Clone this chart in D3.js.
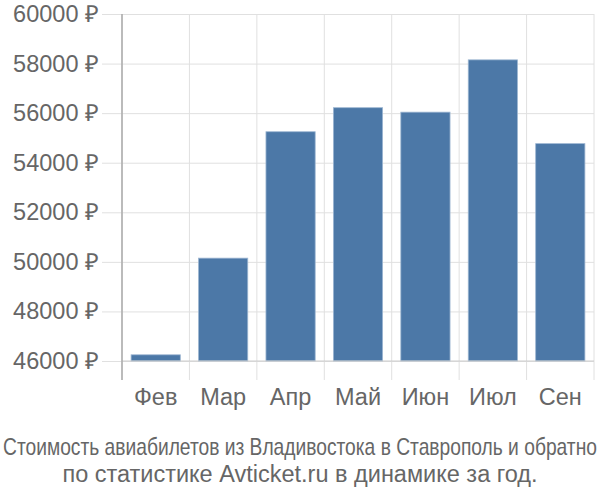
<!DOCTYPE html>
<html>
<head>
<meta charset="utf-8">
<script src="https://cdn.jsdelivr.net/npm/d3@7"></script>
<style>
  body { margin: 0; background: #fff; }
  text { font-family: "Liberation Sans", Arial, sans-serif; fill: #666; }
</style>
</head>
<body>
<div id="chart"></div>
<script>
// months and average ticket price
const months = ["Фев", "Мар", "Апр", "Май", "Июн", "Июл", "Сен"];
const prices = [46250, 50150, 55250, 56220, 56040, 58150, 54770];
const yTicks = [46000, 48000, 50000, 52000, 54000, 56000, 58000, 60000];
const titleLines = [
    "Стоимость авиабилетов из Владивостока в Ставрополь и обратно",
    "по статистике Avticket.ru в динамике за год."
];

const width = 600, height = 500;
const margin = {top: 14, right: 6, bottom: 139, left: 122};

const svg = d3.select("#chart").append("svg")
    .attr("width", width)
    .attr("height", height);

const x = d3.scaleBand()
    .domain(months)
    .range([margin.left, width - margin.right])
    .paddingInner(0.27)
    .paddingOuter(0.135);

const y = d3.scaleLinear()
    .domain([46000, 60000])
    .range([361, margin.top]);

const axisBottomY = 380;

// vertical grid lines (band edges)
const step = x.step();
const edges = d3.range(months.length + 1).map(i => margin.left + i * step);
svg.append("g").selectAll("line").data(edges)
    .enter().append("line")
    .attr("x1", d => d).attr("x2", d => d)
    .attr("y1", margin.top).attr("y2", axisBottomY)
    .attr("stroke", "#e0e0e0")
    .attr("stroke-width", 1);

// horizontal grid + tick labels
const yAxis = d3.axisLeft(y)
    .tickValues(yTicks)
    .tickSize(20)
    .tickPadding(3)
    .tickFormat(d => d + " ₽");

const gy = svg.append("g")
    .attr("transform", `translate(${margin.left},0)`)
    .call(yAxis);
gy.select(".domain").remove();
gy.selectAll(".tick line")
    .attr("x1", -20)
    .attr("x2", width - margin.right - margin.left)
    .attr("stroke", "#e0e0e0");
gy.selectAll(".tick text")
    .style("font-size", "23.5px")
    .attr("fill", "#666");

// bars
svg.append("g").selectAll("rect").data(prices)
    .enter().append("rect")
    .attr("x", (d, i) => x(months[i]))
    .attr("width", x.bandwidth())
    .attr("y", d => y(d))
    .attr("height", d => y(46000) - y(d))
    .attr("fill", "#4c78a7")
    .attr("stroke", "#9db6d2")
    .attr("stroke-width", 0.8);

// baseline
svg.append("line")
    .attr("x1", margin.left).attr("x2", width - margin.right)
    .attr("y1", y(46000)).attr("y2", y(46000))
    .attr("stroke", "#cccccc");

// left axis line
svg.append("line")
    .attr("x1", margin.left).attr("x2", margin.left)
    .attr("y1", margin.top).attr("y2", axisBottomY)
    .attr("stroke", "#aaaaaa")
    .attr("stroke-width", 1.5);

// x labels
svg.append("g").selectAll("text").data(months)
    .enter().append("text")
    .attr("x", d => x(d) + x.bandwidth() / 2)
    .attr("y", 405)
    .attr("text-anchor", "middle")
    .style("font-size", "23.5px")
    .text(d => d);

// caption - first line is squeezed horizontally so it fits the width
const line1 = svg.append("text")
    .attr("text-anchor", "middle")
    .style("font-size", "23px")
    .text(titleLines[0]);
const natural = line1.node().getComputedTextLength();
const sx = Math.min(1, 594 / natural);
line1.attr("transform", `translate(300,455) scale(${sx},1)`);

svg.append("text")
    .attr("x", 300).attr("y", 482)
    .attr("text-anchor", "middle")
    .style("font-size", "23.5px")
    .text(titleLines[1]);
</script>
</body>
</html>
